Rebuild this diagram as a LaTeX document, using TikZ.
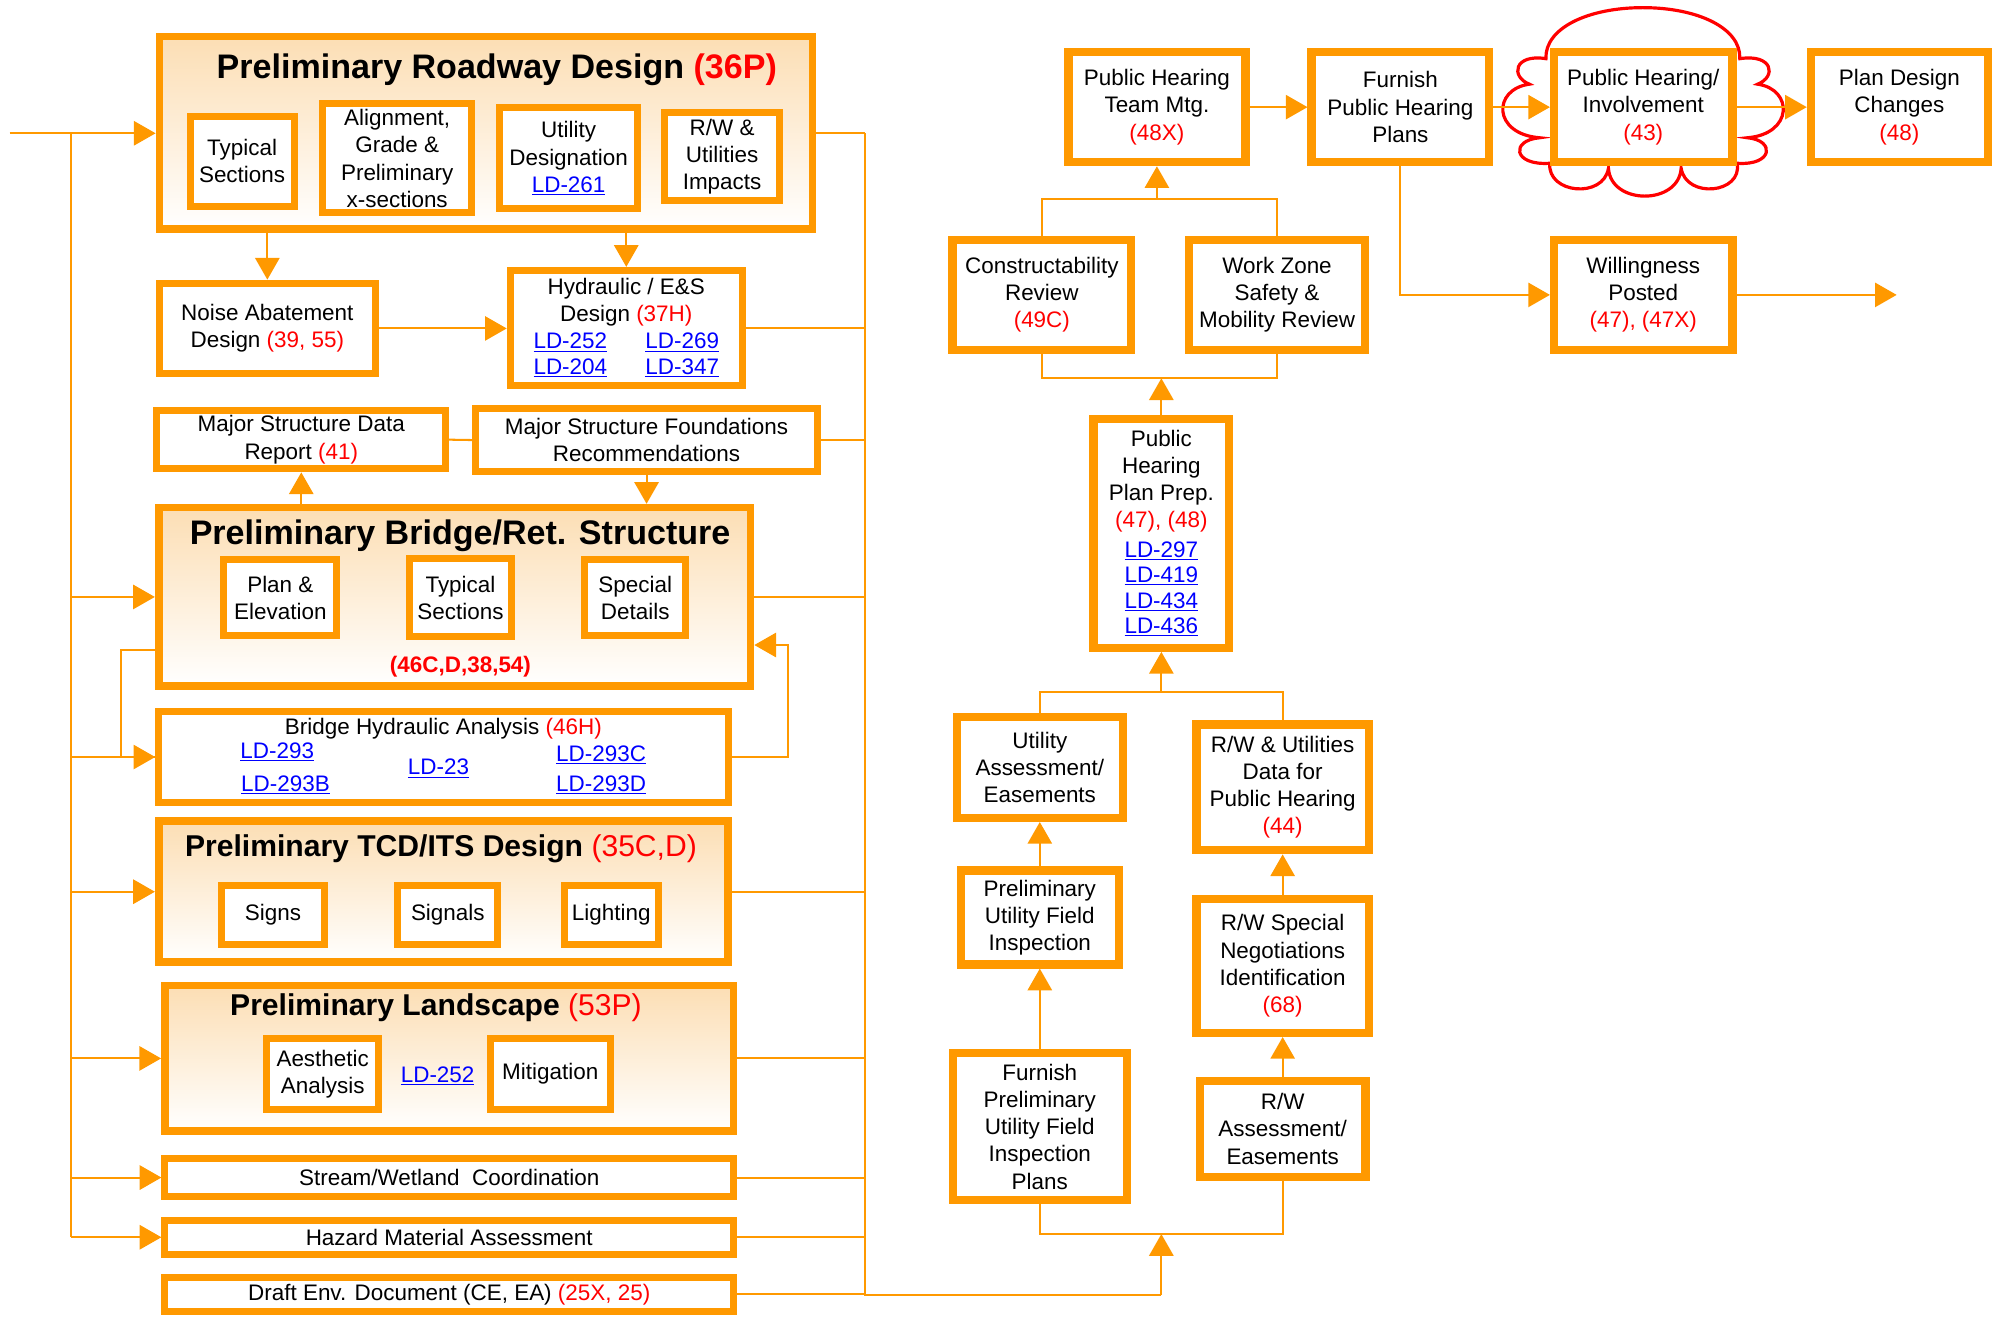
\documentclass[tikz,border=0pt]{standalone}
\usepackage{fontspec}
\setmainfont{Liberation Sans}
\usepackage{tikz}
\usetikzlibrary{arrows.meta}
\usetikzlibrary{calc}

\definecolor{flowor}{RGB}{255,153,0}
\definecolor{stagetop}{RGB}{252,222,180}
\definecolor{refred}{RGB}{255,0,0}
\definecolor{ldblue}{RGB}{0,0,255}

\newcommand{\bodyfont}{\fontsize{17.6pt}{21.3pt}\selectfont}
\newcommand{\headfont}{\fontsize{26.7pt}{30pt}\selectfont\bfseries}
\newcommand{\subheadfont}{\fontsize{23.6pt}{27pt}\selectfont\bfseries}
\newcommand{\rd}[1]{\textcolor{refred}{#1}}
\newcommand{\ld}[1]{{\color{ldblue}\underline{#1}}}

\tikzset{
   stage/.style={draw=flowor, line width=6pt, top color=stagetop, bottom color=white, inner sep=0pt},
   task/.style={draw=flowor, line width=5.5pt, fill=white, align=center, inner sep=0pt, font=\bodyfont},
   note/.style={align=center, inner sep=0pt, font=\bodyfont},
   heading/.style={inner sep=0pt, font=\headfont},
   flow/.style={draw=flowor, line width=1.6pt, -{Triangle[length=17pt,width=19pt]}},
   feed/.style={draw=flowor, line width=1.6pt},
   cloudline/.style={draw=refred, line width=2.5pt},
    }

\begin{document}
\begin{tikzpicture}[x=1pt,y=-1pt]
            \useasboundingbox (0,0) rectangle (1568,1032.5);

            % left column
            \node[stage, minimum width=512, minimum height=151] (road) at (381,104.2) {};
            \node[heading] (roadHead) at (389.5,55) {Preliminary Roadway Design \rd{(36P)}};
            \node[task, minimum width=81.5, minimum height=71] (roadTyp) at (189.8,126.5) {Typical\\Sections};
            \node[task, minimum width=117, minimum height=85.5] (roadAlign) at (311.4,124.2) {Alignment,\\Grade \&\\Preliminary\\x-sections};
            \node[task, minimum width=108.7, minimum height=79] (roadUtil) at (445.8,124.1) {Utility\\Designation\\\ld{LD-261}};
            \node[task, minimum width=90.6, minimum height=69.3] (roadRW) at (566.1,122.6) {R/W \&\\Utilities\\Impacts};

            \node[task, minimum width=169.5, minimum height=71] (noise) at (209.6,257.5) {Noise Abatement\\Design \rd{(39, 55)}};
            \node[task, minimum width=182, minimum height=90] (hydr) at (491,257) {Hydraulic / E\&S\\Design \rd{(37H)}\\\ld{LD-252}\hspace{30pt}\ld{LD-269}\\[-1pt]\ld{LD-204}\hspace{30pt}\ld{LD-347}};
            \node[task, minimum width=226.4, minimum height=45.8] (msdr) at (236.2,344.7) {Major Structure Data\\Report \rd{(41)}};
            \node[task, minimum width=267.7, minimum height=49] (msfr) at (506.9,345) {Major Structure Foundations\\Recommendations};

            \node[stage, minimum width=464, minimum height=140] (bridge) at (356.4,468) {};
            \node[heading] (bridgeHead) at (360.7,420.2) {Preliminary Bridge/Ret. Structure};
            \node[task, minimum width=88.5, minimum height=59.2] (brPlan) at (219.8,468.6) {Plan \&\\Elevation};
            \node[task, minimum width=79.5, minimum height=60.7] (brTyp) at (361,468.5) {Typical\\Sections};
            \node[task, minimum width=79.5, minimum height=59.2] (brSpec) at (498,468.6) {Special\\Details};
            \node[note, font=\bodyfont\bfseries] (bridgeRef) at (361,522.7) {\rd{(46C,D,38,54)}};

            \node[task, minimum width=446.3, minimum height=72] (bha) at (347.6,593.5) {};
            \node[note] (bhaHead) at (347.6,571) {Bridge Hydraulic Analysis \rd{(46H)}};
            \node[note] (ld293) at (217.4,589.3) {\ld{LD-293}};
            \node[note] (ld293b) at (223.8,615.4) {\ld{LD-293B}};
            \node[note] (ld23) at (343.8,602.4) {\ld{LD-23}};
            \node[note] (ld293c) at (471.3,592) {\ld{LD-293C}};
            \node[note] (ld293d) at (471.3,615.4) {\ld{LD-293D}};

            \node[stage, minimum width=446.3, minimum height=110.6] (tcd) at (347.6,699.1) {};
            \node[heading, font=\subheadfont] (tcdHead) at (345.7,665.1) {Preliminary TCD/ITS Design {\mdseries\rd{(35C,D)}}};
            \node[task, minimum width=81, minimum height=46.3] (signs) at (214,717.4) {Signs};
            \node[task, minimum width=78.4, minimum height=46.3] (signals) at (351.1,717.4) {Signals};
            \node[task, minimum width=73.6, minimum height=46] (lighting) at (479.2,717.2) {Lighting};

            \node[stage, minimum width=445.8, minimum height=114.3] (land) at (352.2,829.8) {};
            \node[heading, font=\subheadfont] (landHead) at (341.8,789.8) {Preliminary Landscape {\mdseries\rd{(53P)}}};
            \node[task, minimum width=87.7, minimum height=55.4] (aest) at (253,842.2) {Aesthetic\\Analysis};
            \node[note] (ld252) at (343.1,843.6) {\ld{LD-252}};
            \node[task, minimum width=94, minimum height=56] (mitig) at (431.4,842) {Mitigation};

            \node[task, minimum width=445.8, minimum height=29.3] (stream) at (352.2,923.2) {Stream/Wetland\ \ Coordination};
            \node[task, minimum width=445.8, minimum height=27] (hazard) at (352.2,970) {Hazard Material Assessment};
            \node[task, minimum width=445.8, minimum height=26.7] (draft) at (352.2,1014.7) {Draft Env. Document (CE, EA) \rd{(25X, 25)}};

            % right column
            \draw[cloudline] (1212,46) .. controls (1211,22) and (1245,6) .. (1288,6)
               .. controls (1331,6) and (1365,22) .. (1364,46)
               .. controls (1390,42) and (1393,60) .. (1378,66)
               .. controls (1406,70) and (1406,105) .. (1370,108)
               .. controls (1392,110) and (1390,130) .. (1362,128)
               .. controls (1366,152) and (1322,156) .. (1318,132)
               .. controls (1316,161) and (1263,161) .. (1261,132)
               .. controls (1257,156) and (1213,152) .. (1215,128)
               .. controls (1186,130) and (1184,110) .. (1207,108)
               .. controls (1170,105) and (1170,70) .. (1199,66)
               .. controls (1184,60) and (1187,42) .. (1212,46) -- cycle;

            \node[task, line width=6.5pt, minimum width=138.7, minimum height=86.2] (phtm) at (907,84) {Public Hearing\\Team Mtg.\\\rd{(48X)}};
            \node[task, line width=6.5pt, minimum width=139.2, minimum height=86.2] (furnPH) at (1097.9,84) {Furnish\\Public Hearing\\Plans};
            \node[task, line width=6.5pt, minimum width=139.8, minimum height=86.2] (phInv) at (1288.3,84) {Public Hearing/\\Involvement\\\rd{(43)}};
            \node[task, line width=6.5pt, minimum width=138.7, minimum height=86.2] (plan) at (1489.1,84) {Plan Design\\Changes\\\rd{(48)}};
            \node[task, line width=6.5pt, minimum width=139.8, minimum height=86.5] (will) at (1288.3,231.2) {Willingness\\Posted\\\rd{(47), (47X)}};
            \node[task, line width=6.5pt, minimum width=140, minimum height=86.5] (constr) at (816.8,231.2) {Constructability\\Review\\\rd{(49C)}};
            \node[task, line width=6.5pt, minimum width=138, minimum height=86.5] (wz) at (1001.2,231.2) {Work Zone\\Safety \&\\Mobility Review};
            \node[task, line width=6.5pt, minimum width=106.3, minimum height=179.5] (phpp) at (910.5,418.1) {Public\\Hearing\\Plan Prep.\\\rd{(47), (48)}\\[1.5pt]\ld{LD-297}\\[-1.3pt]\ld{LD-419}\\[-1.3pt]\ld{LD-434}\\[-1.3pt]\ld{LD-436}};
            \node[task, line width=6.5pt, minimum width=130.4, minimum height=79] (uae) at (815.2,601.7) {Utility\\Assessment/\\Easements};
            \node[task, line width=6.5pt, minimum width=135.2, minimum height=98.6] (rwud) at (1005.6,617.3) {R/W \& Utilities\\Data for\\Public Hearing\\\rd{(44)}};
            \node[task, line width=6.5pt, minimum width=123.7, minimum height=73.7] (pufi) at (815.2,719.3) {Preliminary\\Utility Field\\Inspection};
            \node[task, line width=6.5pt, minimum width=135.2, minimum height=105.1] (rwsn) at (1005.6,757.2) {R/W Special\\Negotiations\\Identification\\\rd{(68)}};
            \node[task, line width=6.5pt, minimum width=136.2, minimum height=115.3] (fpufi) at (815.2,883.3) {Furnish\\Preliminary\\Utility Field\\Inspection\\Plans};
            \node[task, line width=6.5pt, minimum width=129.8, minimum height=75.1] (rwa) at (1005.6,885.1) {R/W\\Assessment/\\Easements};

            % connectors, left
            \coordinate (inL) at (7.5,104.5);
            \coordinate (trunkL) at (55.8,104.5);
            \coordinate (trunkR) at (678.3,104.5);
            \coordinate (trunkEnd) at (678.3,1015);
            \coordinate (rise) at (910.5,1015);
            \coordinate (loopL) at (95,509.6);
            \coordinate (loopR) at (617.6,505.7);
            \draw[flow](inL)--(inL -| road.west);
            \draw[feed](trunkL)--(trunkL |- hazard.west);
            \foreach \n in {bridge,bha,tcd,land,stream,hazard}
               \draw[flow](trunkL |- \n.west)--(\n.west);
            \draw[feed](trunkR)--(trunkEnd)--(rise);
            \foreach \n in {road,hydr,msfr,bridge,tcd,land,stream,hazard,draft}
               \draw[feed](\n.east)--(\n.east -| trunkR);
            \draw[flow](road.south -| noise.north)--(noise.north);
            \draw[flow](road.south -| hydr.north)--(hydr.north);
            \draw[flow](noise.east)--(noise.east -| hydr.west);
            \draw[feed](msdr.east)--(msfr.west);
            \draw[flow](bridge.north -| msdr.south)--(msdr.south);
            \draw[flow](msfr.south)--(msfr.south |- bridge.north);
            \draw[feed](loopL -| bridge.west)--(loopL)|-(bha.west);
            \draw[flow](bha.east)-|(loopR)--(loopR -| bridge.east);

            % connectors, right
            \coordinate (joinPH) at (907,156);
            \coordinate (joinPP) at (910.5,296.6);
            \coordinate (joinUA) at (910.5,542.3);
            \coordinate (joinFP) at (910.5,967.5);
            \coordinate (outR) at (1487,231.2);
            \draw[flow](phtm.east)--(furnPH.west);
            \draw[flow](furnPH.east)--(phInv.west);
            \draw[flow](phInv.east)--(plan.west);
            \draw[flow](furnPH.south)|-(will.west);
            \draw[flow](will.east)--(outR);
            \draw[feed](constr.north)|-(joinPH)-|(wz.north);
            \draw[flow](joinPH)--(phtm.south);
            \draw[feed](constr.south)|-(joinPP)-|(wz.south);
            \draw[flow](phpp.north)--(joinPP);
            \draw[feed](uae.north)|-(joinUA)-|(rwud.north);
            \draw[flow](joinUA)--(phpp.south);
            \draw[flow](pufi.north)--(uae.south);
            \draw[flow](fpufi.north)--(pufi.south);
            \draw[flow](rwsn.north)--(rwud.south);
            \draw[flow](rwa.north)--(rwsn.south);
            \draw[feed](fpufi.south)|-(joinFP)-|(rwa.south);
            \draw[flow](rise)--(joinFP);

        \end{tikzpicture}
\end{document}
